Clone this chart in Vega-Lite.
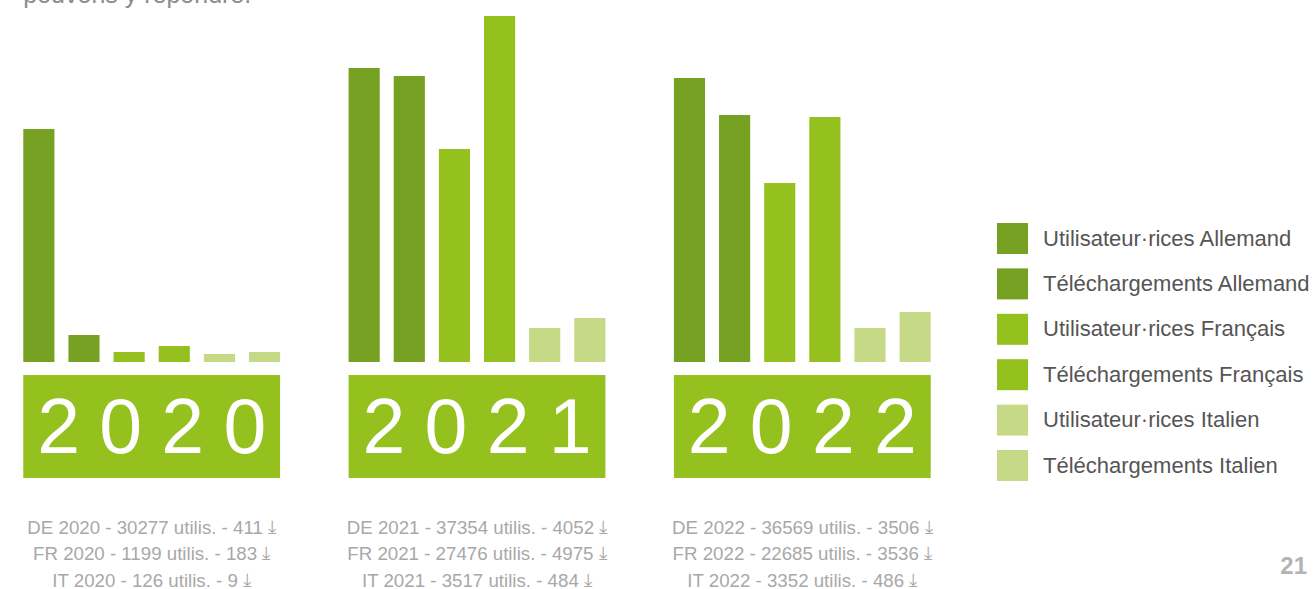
{
  "$schema": "https://vega.github.io/schema/vega-lite/v6.json",
  "width": 1316,
  "height": 589,
  "padding": 0,
  "autosize": {"type": "none"},
  "background": "white",
  "config": {"view": {"stroke": null}, "font": "Liberation Sans"},
  "title": {
    "text": "21",
    "orient": "bottom",
    "anchor": "end",
    "frame": "group",
    "offset": -16,
    "baseline": "alphabetic",
    "dx": -9,
    "fontSize": 24,
    "font": "Liberation Sans",
    "fontWeight": "bold",
    "color": "#b3b3b3"
  },
  "datasets": {
    "barres": [
      {"annee": "2020", "serie": "Utilisateur·rices Allemand", "hauteur": 233},
      {"annee": "2020", "serie": "Téléchargements Allemand", "hauteur": 27},
      {"annee": "2020", "serie": "Utilisateur·rices Français", "hauteur": 10},
      {"annee": "2020", "serie": "Téléchargements Français", "hauteur": 16},
      {"annee": "2020", "serie": "Utilisateur·rices Italien", "hauteur": 8},
      {"annee": "2020", "serie": "Téléchargements Italien", "hauteur": 10},
      {"annee": "2021", "serie": "Utilisateur·rices Allemand", "hauteur": 294},
      {"annee": "2021", "serie": "Téléchargements Allemand", "hauteur": 286},
      {"annee": "2021", "serie": "Utilisateur·rices Français", "hauteur": 213},
      {"annee": "2021", "serie": "Téléchargements Français", "hauteur": 346},
      {"annee": "2021", "serie": "Utilisateur·rices Italien", "hauteur": 34},
      {"annee": "2021", "serie": "Téléchargements Italien", "hauteur": 44},
      {"annee": "2022", "serie": "Utilisateur·rices Allemand", "hauteur": 284},
      {"annee": "2022", "serie": "Téléchargements Allemand", "hauteur": 247},
      {"annee": "2022", "serie": "Utilisateur·rices Français", "hauteur": 179},
      {"annee": "2022", "serie": "Téléchargements Français", "hauteur": 245},
      {"annee": "2022", "serie": "Utilisateur·rices Italien", "hauteur": 34},
      {"annee": "2022", "serie": "Téléchargements Italien", "hauteur": 50}
    ],
    "annees": [
      {"annee": "2020", "libelle": "2\u20050\u20052\u20050"},
      {"annee": "2021", "libelle": "2\u20050\u20052\u20051"},
      {"annee": "2022", "libelle": "2\u20050\u20052\u20052"}
    ],
    "stats": [
      {"annee": "2020", "pays": "DE", "texte": "DE 2020 - 30277 utilis. - 411 ⤓"},
      {"annee": "2020", "pays": "FR", "texte": "FR 2020 - 1199 utilis. - 183 ⤓"},
      {"annee": "2020", "pays": "IT", "texte": "IT 2020 - 126 utilis. - 9 ⤓"},
      {"annee": "2021", "pays": "DE", "texte": "DE 2021 - 37354 utilis. - 4052 ⤓"},
      {"annee": "2021", "pays": "FR", "texte": "FR 2021 - 27476 utilis. - 4975 ⤓"},
      {"annee": "2021", "pays": "IT", "texte": "IT 2021 - 3517 utilis. - 484 ⤓"},
      {"annee": "2022", "pays": "DE", "texte": "DE 2022 - 36569 utilis. - 3506 ⤓"},
      {"annee": "2022", "pays": "FR", "texte": "FR 2022 - 22685 utilis. - 3536 ⤓"},
      {"annee": "2022", "pays": "IT", "texte": "IT 2022 - 3352 utilis. - 486 ⤓"}
    ]
  },
  "layer": [
    {
      "data": {"values": [{"texte": "pouvons y répondre."}]},
      "mark": {"type": "text", "align": "left", "baseline": "alphabetic", "fontSize": 25, "color": "#8c8c8c", "font": "Liberation Sans"},
      "encoding": {
        "x": {"datum": "2020", "bandPosition": 0, "scale": {"domain": ["2020", "2021", "2022"], "range": [0, 954], "paddingInner": 0.2106, "paddingOuter": 0.0716}, "axis": null},
        "y": {"datum": 359, "scale": {"domain": [-227, 362], "nice": false, "zero": false}, "axis": null},
        "text": {"field": "texte"}
      }
    },
    {
      "data": {"name": "barres"},
      "mark": {"type": "bar"},
      "encoding": {
        "x": {"field": "annee", "type": "nominal", "axis": null},
        "xOffset": {"field": "serie", "type": "nominal", "scale": {"domain": ["Utilisateur·rices Allemand", "Téléchargements Allemand", "Utilisateur·rices Français", "Téléchargements Français", "Utilisateur·rices Italien", "Téléchargements Italien"], "paddingInner": 0.31, "paddingOuter": 0}},
        "y": {"field": "hauteur", "type": "quantitative", "stack": null, "axis": null},
        "color": {
          "field": "serie",
          "type": "nominal",
          "scale": {
            "domain": ["Utilisateur·rices Allemand", "Téléchargements Allemand", "Utilisateur·rices Français", "Téléchargements Français", "Utilisateur·rices Italien", "Téléchargements Italien"],
            "range": ["#76a122", "#76a122", "#95c11f", "#95c11f", "#c5d986", "#c5d986"]
          },
          "legend": {
            "title": null,
            "orient": "none",
            "legendX": 997,
            "legendY": 223,
            "padding": 0,
            "symbolType": "square",
            "symbolSize": 961,
            "symbolStrokeWidth": 0,
            "symbolOpacity": 1,
            "labelFont": "Liberation Sans",
            "labelFontSize": 22,
            "labelColor": "#555555",
            "labelOffset": 15,
            "labelLimit": 400,
            "rowPadding": 14.4
          }
        }
      }
    },
    {
      "data": {"name": "annees"},
      "mark": {"type": "rect", "color": "#95c11f"},
      "encoding": {
        "x": {"field": "annee", "type": "nominal", "axis": null},
        "y": {"datum": -13},
        "y2": {"datum": -116}
      }
    },
    {
      "data": {"name": "annees"},
      "mark": {"type": "text", "align": "center", "baseline": "alphabetic", "fontSize": 77, "color": "white", "font": "Liberation Sans"},
      "encoding": {
        "x": {"field": "annee", "type": "nominal", "axis": null},
        "y": {"datum": -91},
        "text": {"field": "libelle"}
      }
    },
    {
      "data": {"name": "stats"},
      "transform": [{"filter": "datum.pays === 'DE'"}],
      "mark": {"type": "text", "align": "center", "baseline": "middle", "fontSize": 18.7, "color": "#a8a8a8", "font": "Liberation Sans"},
      "encoding": {
        "x": {"field": "annee", "type": "nominal", "axis": null},
        "y": {"datum": -165.5},
        "text": {"field": "texte"}
      }
    },
    {
      "data": {"name": "stats"},
      "transform": [{"filter": "datum.pays === 'FR'"}],
      "mark": {"type": "text", "align": "center", "baseline": "middle", "fontSize": 18.7, "color": "#a8a8a8", "font": "Liberation Sans"},
      "encoding": {
        "x": {"field": "annee", "type": "nominal", "axis": null},
        "y": {"datum": -192},
        "text": {"field": "texte"}
      }
    },
    {
      "data": {"name": "stats"},
      "transform": [{"filter": "datum.pays === 'IT'"}],
      "mark": {"type": "text", "align": "center", "baseline": "middle", "fontSize": 18.7, "color": "#a8a8a8", "font": "Liberation Sans"},
      "encoding": {
        "x": {"field": "annee", "type": "nominal", "axis": null},
        "y": {"datum": -218.5},
        "text": {"field": "texte"}
      }
    }
  ]
}
